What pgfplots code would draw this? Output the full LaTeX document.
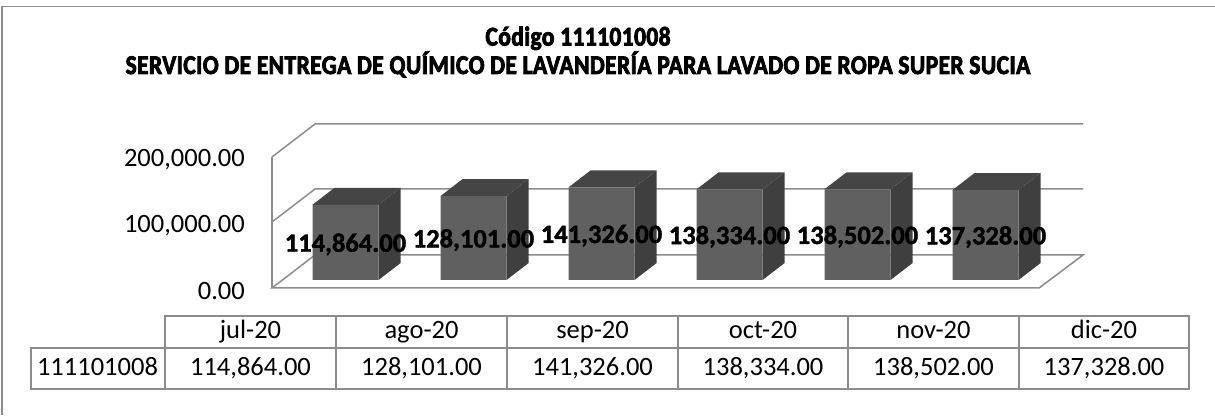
\documentclass[border=0pt]{standalone}
\usepackage{pgfplots}
\pgfplotsset{compat=1.18}
\usepackage{fontspec}
\setmainfont{Carlito}
\newfontfamily\titlefont{Carlito}[UprightFont=* Bold,FakeBold=3,FakeStretch=0.87,LetterSpace=1.5]
\newfontfamily\labelfont{Carlito}[UprightFont=* Bold,FakeBold=1.5]
\definecolor{barfront}{HTML}{606060}
\definecolor{barside}{HTML}{3F3F3F}
\definecolor{bartop}{HTML}{454545}
\definecolor{frameline}{HTML}{8C8C8C}

% side and top of one bar: index, value
\newcommand{\barfaces}[2]{%
  \edef\temp{\noexpand\addplot[fill=barside,draw=none] coordinates {
    (\fpeval{#1+0.258},0) (\fpeval{#1+0.430},25900)
    (\fpeval{#1+0.430},\fpeval{#2+25900}) (\fpeval{#1+0.258},#2)} -- cycle;
  \noexpand\addplot[fill=bartop,draw=none] coordinates {
    (\fpeval{#1-0.258},#2) (\fpeval{#1-0.086},\fpeval{#2+25900})
    (\fpeval{#1+0.430},\fpeval{#2+25900}) (\fpeval{#1+0.258},#2)} -- cycle;}%
  \temp
}

\pgfplotstableread{
x y
0 114864
1 128101
2 141326
3 138334
4 138502
5 137328
}\bardata

\pgfplotstableread{
x y label
0 57432 114,864.00
1 64050 128,101.00
2 70663 141,326.00
3 69167 138,334.00
4 69251 138,502.00
5 68664 137,328.00
}\labeldata

\begin{document}
\begin{tikzpicture}[x=1pt,y=1pt]
\path[use as bounding box] (0,0) rectangle (1215,415);

\begin{scope}[y=-1pt,yshift=415pt,line width=1.5pt,draw=frameline]
  % outer frame
  \draw (2,415) -- (2,6.5) -- (1215,6.5);
  % title
  \node[anchor=base,inner sep=0pt,font=\titlefont\fontsize{27}{30}\selectfont] at (578,45.5) {Código 111101008};
  \node[anchor=base,inner sep=0pt,font=\titlefont\fontsize{27}{30}\selectfont] at (578,74) {SERVICIO DE ENTREGA DE QUÍMICO DE LAVANDERÍA PARA LAVADO DE ROPA SUPER SUCIA};
  % walls and floor
  \draw (272,157) -- (315,124) -- (1083,124);
  \draw (272,222) -- (315,189) -- (1083,189);
  \draw (272,288) -- (315,255) -- (1083,255) -- (1039,288) -- cycle;
  % data table
  \draw (165,348) -- (165,316) -- (1189,316) -- (1189,389) -- (31,389) -- (31,348) -- (1189,348);
  \foreach \xx in {165,336,507,678,848,1019} \draw (\xx,316) -- (\xx,389);
  \foreach \xx/\mon/\val in {250.5/jul-20/114{,}864.00,421.5/ago-20/128{,}101.00,592.5/sep-20/141{,}326.00,763/oct-20/138{,}334.00,933.5/nov-20/138{,}502.00,1104/dic-20/137{,}328.00} {
    \node[inner sep=0pt,font=\fontsize{26.5}{30}\selectfont] at (\xx,333) {\strut\mon};
    \node[inner sep=0pt,font=\fontsize{26.5}{30}\selectfont] at (\xx,370) {\strut\val};
  }
  \node[inner sep=0pt,font=\fontsize{26.5}{30}\selectfont] at (97.5,370) {\strut 111101008};
\end{scope}

% value axis on the front of the wall
\begin{axis}[
    at={(272pt,127pt)},anchor=south west,
    scale only axis,width=767pt,height=131pt,
    xmin=0,xmax=1,ymin=0,ymax=200000,
    axis x line=none,
    axis y line=left,
    axis line style={draw=frameline,line width=1.5pt,-},
    xtick=\empty,
    ytick={0,100000,200000},
    scaled y ticks=false,
    major tick length=0pt,
    yticklabel style={font=\fontsize{26.5}{30}\selectfont,inner sep=0pt,anchor=east,xshift=-27pt,yshift=-3pt},
    /pgf/number format/fixed,
    /pgf/number format/fixed zerofill,
    /pgf/number format/precision=2,
    /pgf/number format/1000 sep={,},
    /pgf/number format/assume math mode=true,
]
\end{axis}

% bars, standing on the floor behind the front edge
\begin{axis}[
    at={(281.5pt,135pt)},anchor=south west,
    scale only axis,width=768pt,height=131pt,
    xmin=-0.5,xmax=5.5,ymin=0,ymax=200000,
    hide axis,clip=false,
]
\barfaces{0}{114864}
\barfaces{1}{128101}
\barfaces{2}{141326}
\barfaces{3}{138334}
\barfaces{4}{138502}
\barfaces{5}{137328}
\addplot[ybar,bar width=66pt,bar shift=0pt,fill=barfront,draw=none] table[x=x,y=y] {\bardata};
\addplot[draw=none,mark=none,
    nodes near coords,point meta=explicit symbolic,
    every node near coord/.style={anchor=center,inner sep=0pt,yshift=-2pt,font=\labelfont\fontsize{26.5}{30}\selectfont,black},
  ] table[x=x,y=y,meta=label] {\labeldata};
\end{axis}
\end{tikzpicture}
\end{document}
